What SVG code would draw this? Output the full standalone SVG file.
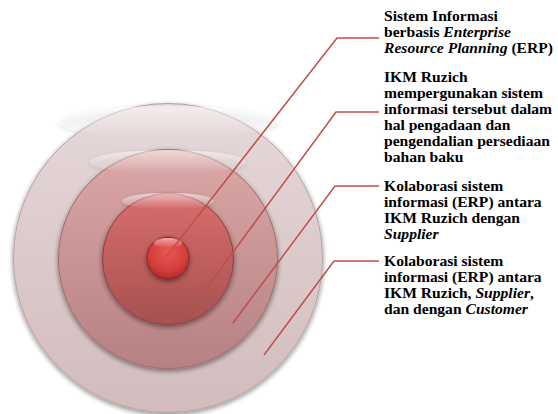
<svg xmlns="http://www.w3.org/2000/svg" width="558" height="414" viewBox="0 0 558 414">
  <style>
    .lbl { font-family: "Liberation Serif", "Times New Roman", serif; font-size: 15.6px; font-weight: bold; fill: #000; }
    .it { font-style: italic; }
    .lead { fill: none; stroke: #c24d4a; stroke-width: 1.5; }
    .rim { fill: none; stroke-width: 1; }
  </style>
  <defs>
    <filter id="soft" x="-20%" y="-20%" width="140%" height="140%">
      <feGaussianBlur in="SourceAlpha" stdDeviation="2.5"/>
      <feOffset dx="0" dy="2"/>
      <feComponentTransfer><feFuncA type="linear" slope="0.45"/></feComponentTransfer>
      <feMerge><feMergeNode/><feMergeNode in="SourceGraphic"/></feMerge>
    </filter>
    <linearGradient id="g1" x1="0" y1="0" x2="0" y2="1">
      <stop offset="0" stop-color="#e6d8d9"/>
      <stop offset="1" stop-color="#d2bcbd"/>
    </linearGradient>
    <linearGradient id="g2" x1="0" y1="0" x2="0" y2="1">
      <stop offset="0" stop-color="#dba7a7"/>
      <stop offset="1" stop-color="#b58182"/>
    </linearGradient>
    <linearGradient id="g3" x1="0" y1="0" x2="0" y2="1">
      <stop offset="0" stop-color="#d86e6d"/>
      <stop offset="1" stop-color="#a65150"/>
    </linearGradient>
    <radialGradient id="g4" cx="0.5" cy="0.35" r="0.65">
      <stop offset="0" stop-color="#ea5754"/>
      <stop offset="0.7" stop-color="#d33c3a"/>
      <stop offset="1" stop-color="#a92a29"/>
    </radialGradient>
    <linearGradient id="gloss" x1="0" y1="0" x2="0" y2="1">
      <stop offset="0" stop-color="#fff" stop-opacity="0.55"/>
      <stop offset="1" stop-color="#fff" stop-opacity="0"/>
    </linearGradient>
  </defs>

  <!-- concentric rings -->
  <g id="ring-outer" filter="url(#soft)">
    <circle cx="168" cy="258" r="155" fill="url(#g1)"/>
    <circle class="rim" cx="168" cy="258" r="154.5" stroke="#b9a2a4"/>
    <ellipse cx="168" cy="122" rx="110" ry="16" fill="url(#gloss)"/>
  </g>
  <g id="ring-second" filter="url(#soft)">
    <circle cx="168" cy="259" r="110" fill="url(#g2)"/>
    <circle class="rim" cx="168" cy="259" r="109.5" stroke="#9d6f70"/>
    <ellipse cx="168" cy="162" rx="78" ry="12" fill="url(#gloss)"/>
  </g>
  <g id="ring-third" filter="url(#soft)">
    <circle cx="168" cy="259" r="66" fill="url(#g3)"/>
    <circle class="rim" cx="168" cy="259" r="65.5" stroke="#8f4241"/>
    <ellipse cx="168" cy="201" rx="46" ry="8" fill="url(#gloss)"/>
  </g>
  <g id="core" filter="url(#soft)">
    <circle cx="168" cy="258" r="21.5" fill="url(#g4)"/>
    <circle class="rim" cx="168" cy="258" r="21" stroke="#8e2524"/>
    <ellipse cx="168" cy="243" rx="14" ry="5" fill="url(#gloss)"/>
  </g>

  <!-- leader lines -->
  <g id="connectors">
    <polyline class="lead" points="166,257 337,38 379,38"/>
    <polyline class="lead" points="203,293 336,112 379,112"/>
    <polyline class="lead" points="233,323 335,186 379,186"/>
    <polyline class="lead" points="264,355 334,261 379,261"/>
  </g>

  <!-- labels -->
  <g id="label-erp">
    <text class="lbl" x="384" y="21">
      <tspan x="384">Sistem Informasi</tspan>
      <tspan x="384" dy="16">berbasis <tspan class="it">Enterprise</tspan></tspan>
      <tspan x="384" dy="16"><tspan class="it">Resource Planning</tspan> (ERP)</tspan>
    </text>
  </g>
  <g id="label-ikm">
    <text class="lbl" x="384" y="82">
      <tspan x="384">IKM Ruzich</tspan>
      <tspan x="384" dy="16">mempergunakan sistem</tspan>
      <tspan x="384" dy="16">informasi tersebut dalam</tspan>
      <tspan x="384" dy="16">hal pengadaan dan</tspan>
      <tspan x="384" dy="16">pengendalian persediaan</tspan>
      <tspan x="384" dy="16">bahan baku</tspan>
    </text>
  </g>
  <g id="label-supplier">
    <text class="lbl" x="384" y="191">
      <tspan x="384">Kolaborasi sistem</tspan>
      <tspan x="384" dy="16">informasi (ERP) antara</tspan>
      <tspan x="384" dy="16">IKM Ruzich dengan</tspan>
      <tspan x="384" dy="16" class="it">Supplier</tspan>
    </text>
  </g>
  <g id="label-customer">
    <text class="lbl" x="384" y="266">
      <tspan x="384">Kolaborasi sistem</tspan>
      <tspan x="384" dy="16">informasi (ERP) antara</tspan>
      <tspan x="384" dy="16">IKM Ruzich, <tspan class="it">Supplier</tspan>,</tspan>
      <tspan x="384" dy="16">dan dengan <tspan class="it">Customer</tspan></tspan>
    </text>
  </g>
</svg>
